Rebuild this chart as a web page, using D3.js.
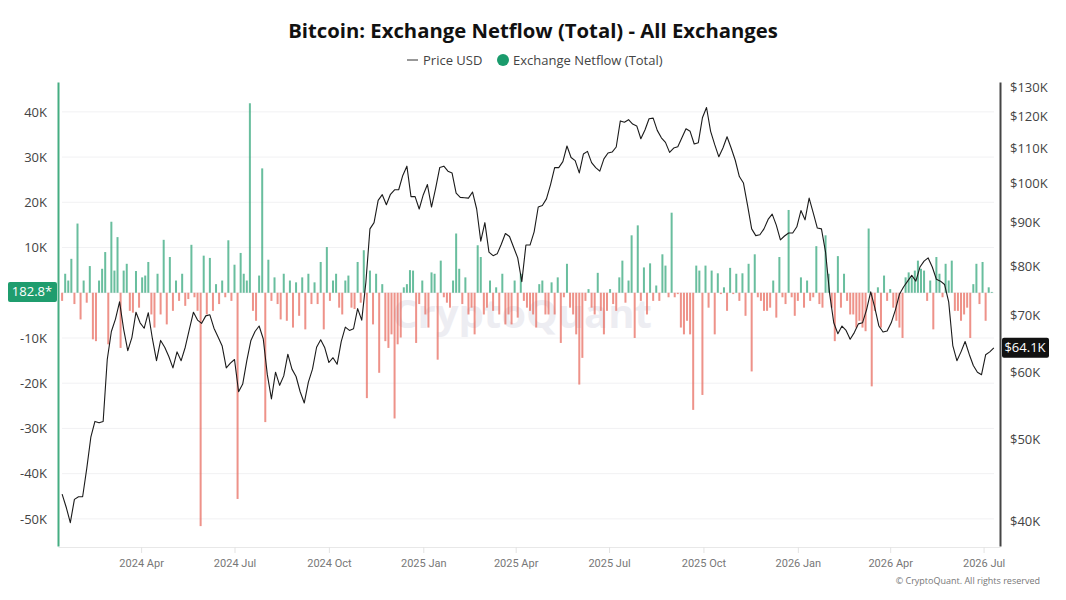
<!DOCTYPE html>
<html>
<head>
<meta charset="utf-8">
<script src="https://cdn.jsdelivr.net/npm/d3@7"></script>
<style>
  body { margin: 0; background: #fff; }
  text { font-family: "Open Sans", "Noto Sans", sans-serif; }
</style>
</head>
<body>
<div id="chart"></div>
<script>
const WIDTH = 1066, HEIGHT = 600;
const margin = {top: 82, right: 66, bottom: 54, left: 58};

// Price USD, one value every 4 days from 2024-01-15
const priceStart = "2024-01-15", priceStepDays = 4;
const priceUSD = [
  43100, 41600, 39900, 42500, 42800, 42800, 46200, 50300, 52500, 52300, 52500, 62100, 67000, 69300, 72600,
  67400, 63600, 65900, 70600, 68600, 67600, 70500, 65700, 61900, 65400, 64200, 62600, 60700, 63400, 61900,
  64200, 67400, 70600, 69100, 68500, 69900, 70100, 67600, 66000, 64400, 60700, 61500, 62100, 56900, 58100,
  61900, 65400, 67000, 68000, 65700, 59600, 55800, 60000, 57900, 59400, 63000, 60500, 59300, 56900, 55200,
  58400, 60500, 64200, 65500, 64100, 61600, 62400, 61300, 65200, 67800, 67200, 67500, 71300, 69100, 76500,
  88500, 90000, 95600, 97100, 94500, 97200, 98400, 98400, 102300, 104900, 96600, 96600, 93400, 97100, 99800,
  93900,
  98800, 104500, 104900, 103500, 103000, 97500, 96400, 96300, 96200, 97800, 93400, 85600, 90000, 83100, 82300,
  82700, 84900, 87400, 86700, 84200, 81800, 76700, 84700, 84700, 87800, 93900, 94300, 96000, 99800, 104500,
  104500, 106200, 110800, 107400, 106500, 103000, 108400, 109200, 105900, 104500, 103500, 107000, 108700, 109000, 110500,
  118600,
  118200, 119000, 117600, 117000, 113000, 115700, 119300, 119500, 115600, 113300, 111900, 108900, 110200, 110600, 113300,
  116100, 115300, 111400, 111800, 119600, 123000, 115300, 111200, 107600, 110200, 113600, 110200, 106600, 102000, 100200,
  94300, 88500, 86900, 87100, 88500, 90800, 92100, 89400, 85900, 86800, 87500, 87500, 89000, 93000, 90700,
  96200,
  92400, 88700, 88500, 83100, 74200, 68600, 66600, 68000, 67200, 65600, 66800, 68400, 68600, 71100, 74600,
  71500, 68000, 66900, 67100, 68600, 71000, 74100, 75600, 76800, 78000, 76800, 79800, 81100, 81800, 79800,
  77200, 76800, 76100, 72600, 64500, 61900, 63400, 65200, 63000, 61100, 60000, 59600, 62900, 63400, 64100
];

// Exchange netflow (BTC), one value every 3 days from 2024-01-15
const flowStart = "2024-01-15", flowStepDays = 3;
const netflowBTC = [
  -1800, 4200, 2700, 7500, -2500, 15300, -5900, 2700, -2200, 5900, -10300, -10700, 2700, 5300, 9000,
  -11400, 15700, 4900, 12300, -12200, 4900, 6400, -4000, -4400, 4800, -3300, 3400, 3800, 6800, -4800,
  -7700, 4200, -4800, 11700, -7000, 7900, -4000, 2700, -1800, 4200, -2900, -1400, 10600, -1000, -4000,
  -51600, 8200, -4800, 7700, -4000, 1900, -2500, 2700, -1000, 11600, -1800, 6200, -45600, 8800, 4200,
  2700, 41900, -4000, -6200, 3800, 27500, -28600, 7300, -1800, 3400, -2500, -5900, 4200, -6200, 2700,
  -7700, 2300, -5100, 3400, -8100, 4200, -2500, 2300, -2500, 6800, -8100, 10100, -1800, 2700, 4200,
  -3300, -4800, 2700, 3800, -3300, -3600, 6800, -2200, 9400, -23300, 4900, -7000, 4200, -17700, 1900,
  -10700, -12200, -9200, -27800, -11400, -9900, 1200, 1900, 5000, 4900, -11100, -2500, 2700, -4800, -7700,
  4500,
  4200, -14800, 7100, -1000, -2200, -3300, 2700, 13100, 5300, -2500, 3400, -4800, -3300, -9200, 10500,
  7900, -4800, -3300, 2700, -4000, 1200, -4800, 4200, -7000, -4800, -7000, 2700, -5500, 4200, -1800,
  -3300, -4000, -4800, -7700, 1900, 2700, -4800, -4800, 2300, -4800, 3400, -11100, -1000, 6400, -3300,
  -4800, -9200, -20300, -14400, -1800, 800, -3300, -4800, 4400, -4000, -9200, -4000, 800, -2500, -4000,
  3400,
  7100, -2200, 2700, 12700, -10000, 14900, -1800, 5600, -4800, 6500, -1800, 1600, -1800, 8500, 6000,
  -1000, 17700, -1000, -300, -7700, -9200, -6200, -9200, -25900, 6000, 4900, -22600, 6000, -3300, 4900,
  -9200, 4300, -300, 1200, -4000, 5500, -300, 4200, -1800, 4300, -5100, 6400, -17400, 8500, -1000,
  -1800, -4000, -4000, -3300, 2700, -5500, 7900, -1000, -2500, 18300, -1000, -5100, -1800, 3400, -3300,
  2700,
  -1800, -1000, 10300, -2500, -3300, 12700, 4200, -3300, -10700, 8100, -3300, 4200, -1800, -4800, -4800,
  -7700, -6200, -7700, -8500, 14200, -20700, -4000, 1200, -7700, 3800, -1800, 800, -3300, -6200, -7700,
  -10000, 3400, 4500, 3400, 4900, 7100, 5300, 4900, -1800, 2700, -8100, 7900, 4200, -1000, 6400,
  2700, 7100, -4000, -4000, -6200, -4800, -3300, -10000, 1900, 6400, -2500, 6800, -6200, 1200, 182.8
];

const xDomain = ["2024-01-11", "2026-07-17"];
const xTickDates = ["2024-04-01", "2024-07-01", "2024-10-01", "2025-01-01", "2025-04-01",
                    "2025-07-01", "2025-10-01", "2026-01-01", "2026-04-01", "2026-07-01"];
const xTickLabels = ["2024 Apr", "2024 Jul", "2024 Oct", "2025 Jan", "2025 Apr",
                     "2025 Jul", "2025 Oct", "2026 Jan", "2026 Apr", "2026 Jul"];
const leftTicks = [-50000, -40000, -30000, -20000, -10000, 10000, 20000, 30000, 40000];
const gridTicks = [-50000, -40000, -30000, -20000, -10000, 0, 10000, 20000, 30000, 40000];
const rightTicks = [40000, 50000, 60000, 70000, 80000, 90000, 100000, 110000, 120000, 130000];
const lastFlowLabel = "182.8*";
const lastPriceLabel = "$64.1K";

const parse = d3.utcParse("%Y-%m-%d");
const DAY = 86400000;

let priceData = priceUSD.map((v, i) => ({date: new Date(parse(priceStart).getTime() + i * priceStepDays * DAY), value: v}));
let flowData = netflowBTC.map((v, i) => ({date: new Date(parse(flowStart).getTime() + i * flowStepDays * DAY), value: v}));

let svg = d3.select("#chart").append("svg")
    .attr("width", WIDTH)
    .attr("height", HEIGHT);

let plotW = WIDTH - margin.left - margin.right;
let plotH = HEIGHT - margin.top - margin.bottom;

let x = d3.scaleUtc()
    .domain(xDomain.map(parse))
    .range([margin.left, margin.left + plotW]);

let yFlow = d3.scaleLinear()
    .domain([-56000, 46600])
    .range([margin.top + plotH, margin.top]);

let yPrice = d3.scaleLog()
    .domain([37450, 131800])
    .range([margin.top + plotH, margin.top]);

// Title
svg.append("text")
    .attr("x", 533).attr("y", 38)
    .attr("text-anchor", "middle")
    .style("font-size", "20.3px")
    .style("font-weight", "bold")
    .attr("fill", "#111")
    .text("Bitcoin: Exchange Netflow (Total) - All Exchanges");

// Legend
let legend = svg.append("g").attr("transform", "translate(0,60)");
legend.append("line")
    .attr("x1", 407).attr("x2", 418).attr("y1", 0).attr("y2", 0)
    .attr("stroke", "#333").attr("stroke-width", 1);
legend.append("text")
    .attr("x", 423).attr("y", 0).attr("dy", "0.35em")
    .style("font-size", "13px").attr("fill", "#444")
    .text("Price USD");
legend.append("circle")
    .attr("cx", 503).attr("cy", 0).attr("r", 6)
    .attr("fill", "#1a9b6c");
legend.append("text")
    .attr("x", 513).attr("y", 0).attr("dy", "0.35em")
    .style("font-size", "13px").attr("fill", "#444")
    .text("Exchange Netflow (Total)");

// Grid lines
svg.append("g")
    .selectAll("line")
    .data(gridTicks)
    .enter().append("line")
    .attr("x1", margin.left + 4).attr("x2", margin.left + plotW - 6)
    .attr("y1", d => yFlow(d)).attr("y2", d => yFlow(d))
    .attr("stroke", "#f1f1f3");

// Watermark
svg.append("text")
    .attr("x", 522).attr("y", 328)
    .attr("text-anchor", "middle")
    .style("font-size", "40px")
    .style("font-weight", "bold")
    .attr("fill", "#ededf2")
    .text("CryptoQuant");

// Netflow bars
let bw = 2;
svg.append("g")
    .selectAll("rect")
    .data(flowData)
    .enter().append("rect")
    .attr("x", d => x(d.date) - bw / 2)
    .attr("width", bw)
    .attr("y", d => yFlow(Math.max(0, d.value)))
    .attr("height", d => Math.abs(yFlow(d.value) - yFlow(0)))
    .attr("fill", d => d.value >= 0 ? "#2fa579" : "#e8685c")
    .attr("opacity", 0.72);

// Price line
svg.append("path")
    .datum(priceData)
    .attr("fill", "none")
    .attr("stroke", "#1b1b1b")
    .attr("stroke-width", 1.1)
    .attr("stroke-linejoin", "round")
    .attr("d", d3.line().x(d => x(d.date)).y(d => yPrice(d.value)));

// X axis
let xAxis = svg.append("g")
    .attr("transform", `translate(0, ${margin.top + plotH + 1})`)
    .call(d3.axisBottom(x)
        .tickValues(xTickDates.map(parse))
        .tickFormat((d, i) => xTickLabels[i])
        .tickSize(6)
        .tickSizeOuter(0)
        .tickPadding(6));
xAxis.select(".domain").attr("stroke", "#e8e8e8");
xAxis.selectAll(".tick line").attr("stroke", "#e3e3e3");
xAxis.selectAll("text").attr("fill", "#777").style("font-size", "11px")
    .style("font-family", "'Liberation Sans Narrow', 'Roboto', sans-serif");

// Left axis
let leftAxis = svg.append("g")
    .attr("transform", `translate(${margin.left}, 0)`)
    .call(d3.axisLeft(yFlow)
        .tickValues(leftTicks)
        .tickFormat(d => (d / 1000) + "K")
        .tickSize(0)
        .tickSizeOuter(0)
        .tickPadding(11));
leftAxis.select(".domain").attr("stroke", "#45ad82").attr("stroke-width", 2);
leftAxis.selectAll("text").attr("fill", "#444").style("font-size", "13px");

// Right axis
let rightAxis = svg.append("g")
    .attr("transform", `translate(${margin.left + plotW}, 0)`)
    .call(d3.axisRight(yPrice)
        .tickValues(rightTicks)
        .tickFormat(d => "$" + (d / 1000) + "K")
        .tickSize(0)
        .tickSizeOuter(0)
        .tickPadding(10));
rightAxis.select(".domain").attr("stroke", "#444").attr("stroke-width", 2);
rightAxis.selectAll("text").attr("fill", "#444").style("font-size", "13px");

// Last value badges
let yLastFlow = yFlow(netflowBTC[netflowBTC.length - 1]);
svg.append("rect")
    .attr("x", 8).attr("y", yLastFlow - 10).attr("width", 49).attr("height", 20).attr("rx", 2)
    .attr("fill", "#1f9d6e");
svg.append("text")
    .attr("x", 32).attr("y", yLastFlow).attr("dy", "0.35em")
    .attr("text-anchor", "middle")
    .style("font-size", "13px").attr("fill", "#fff")
    .text(lastFlowLabel);

let yLastPrice = yPrice(priceUSD[priceUSD.length - 1]);
svg.append("rect")
    .attr("x", 1002).attr("y", yLastPrice - 10).attr("width", 47).attr("height", 20).attr("rx", 2)
    .attr("fill", "#111");
svg.append("text")
    .attr("x", 1025).attr("y", yLastPrice).attr("dy", "0.35em")
    .attr("text-anchor", "middle")
    .style("font-size", "13px").attr("fill", "#fff")
    .text(lastPriceLabel);

// Credit
svg.append("text")
    .attr("x", 1040).attr("y", 584)
    .attr("text-anchor", "end")
    .style("font-size", "9px").attr("fill", "#777")
    .text("© CryptoQuant. All rights reserved");
</script>
</body>
</html>
